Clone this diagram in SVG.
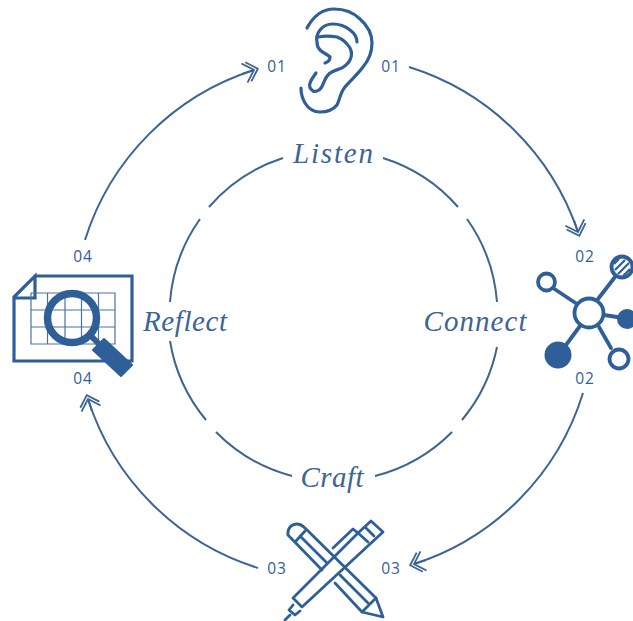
<svg xmlns="http://www.w3.org/2000/svg" width="633" height="621" viewBox="0 0 633 621">
<style>
.c{fill:none;stroke:#3d6494;stroke-width:2}
.i{fill:none;stroke:#2f5f98;stroke-width:3.2;stroke-linecap:round;stroke-linejoin:round}
.f{fill:#2f5f98;stroke:none}
.n{font-family:"Open Sans",sans-serif;font-size:15.500px;fill:#2f5f98;letter-spacing:.8px;text-anchor:middle}
.l{font-family:"Liberation Serif",serif;font-style:italic;font-size:29px;fill:#3d6494;text-anchor:middle}
</style>
<defs>
<marker id="a" markerUnits="userSpaceOnUse" markerWidth="24" markerHeight="28" refX="12" refY="14" orient="auto" overflow="visible">
<path d="M6,4 L16,14 L6,24 M2,4 L12,14 L2,24 M12,14 L0,14" fill="none" stroke="#3d6494" stroke-width="1.800"/>
</marker>
</defs>
<g id="connectors">
<path class="c" marker-end="url(#a)" d="M409,67 A260,260 0 0 1 578,232"/>
<path class="c" marker-end="url(#a)" d="M583,393 A260,260 0 0 1 414,564"/>
<path class="c" marker-end="url(#a)" d="M258,568 A260,260 0 0 1 88,399"/>
<path class="c" marker-end="url(#a)" d="M85,240 A260,260 0 0 1 254,70"/>
<path class="c" d="M383,158 A165,165 0 0 1 458,207"/>
<path class="c" d="M467,219 A165,165 0 0 1 497,302"/>
<path class="c" d="M497,347 A165,165 0 0 1 462,420"/>
<path class="c" d="M452,432 A165,165 0 0 1 375,476"/>
<path class="c" d="M292,476 A165,165 0 0 1 216,432"/>
<path class="c" d="M206,420 A165,165 0 0 1 170,341"/>
<path class="c" d="M170,302 A165,165 0 0 1 200,219"/>
<path class="c" d="M209,207 A165,165 0 0 1 283,158"/>
</g>
<g id="listen">
<path class="i" d="M307,28 C314,15 324,9 334,9 C343,9 353,12 360,19 C368,26 372,34 372,43 C372,53 369,60 363,67 C357,75 350,81 345,87 C340,93 340,99 337,105 C333,110 327,112 320,112 C313,112 308,108 305,103 C302,98 301,93 301,88"/>
<path class="i" d="M357,42 C357,37 354,33 350,30 C345,26 339,24 333,24 C327,24 323,26 320,30 C317,34 316,38 317,42 C317,46 318,48 320,50 C323,53 327,54 330,57 C330,60 328,62 325,63"/>
<path class="i" d="M318,37 C324,36 331,36 337,37 C342,39 347,43 350,48 C352,52 352,56 350,60 C348,64 345,66 342,68 C337,70 331,71 328,75 C324,79 324,84 321,88 C319,91 315,92 313,91 C310,89 309,86 310,83 C311,79 314,76 316,73"/>
<text class="n" x="277" y="72">01</text>
<text class="n" x="391" y="72">01</text>
<text class="l" x="333" y="163" textLength="80">Listen</text>
</g>
<g id="connect">
<g class="i" style="stroke-width:3.800">
<path d="M553,288 L577,304 M598,299 L615,277 M604,315 L617,317 M580,326 L566,345 M599,327 L611,348"/>
<circle cx="589" cy="313" r="14.500"/>
<circle cx="546.500" cy="282" r="8.500"/>
<circle cx="619" cy="359" r="9.500"/>
<circle cx="622" cy="267" r="10.500"/>
</g>
<path d="M614,264 L619,259 M615,270 L625,260 M618,274 L629,263 M623,276 L630,269" fill="none" stroke="#2f5f98" stroke-width="2.200"/>
<circle class="f" cx="627" cy="319" r="10"/>
<circle class="f" cx="558" cy="355" r="13.500"/>
<text class="n" x="585" y="262">02</text>
<text class="n" x="585" y="384">02</text>
<text class="l" x="475" y="331" textLength="103">Connect</text>
</g>
<g id="craft">
<g class="i" style="stroke-width:2.800">
<path d="M322,570 L288,535 C287,529 291,524 297,524 C300,524 303,526 305,528 L376,598 L383,617 L362,612 L335,583"/>
<path d="M296,541 L305,531 M300,536 L327,563 M340,575 L368,603 M376,598 L362,612"/>
<path d="M293,598 L358,533 L371,521 L383,532 L302,607 Z"/>
<path d="M333,548 L353,529 L358,533 M358,533 L368,542 M365,527 L374,536"/>
<path d="M293,605 L289,610 L295,615 L300,611 M290,615 L285,620"/>
</g>
<text class="n" x="277" y="574">03</text>
<text class="n" x="391" y="574">03</text>
<text class="l" x="332" y="487" textLength="63">Craft</text>
</g>
<g id="reflect">
<path fill="none" stroke="#2f5f98" stroke-width="3.200" d="M35,276 H132 V361 H14 V297 L35,276 V298 H14"/>
<path fill="none" stroke="#4b72a3" stroke-width="1.200" d="M31,293 H115 V344 H31 Z M31,310 H115 M31,327 H115 M47.500,293 V344 M65,293 V344 M81.500,293 V344 M98.500,293 V344"/>
<circle cx="72" cy="318" r="24.500" fill="none" stroke="#2f5f98" stroke-width="7.500"/>
<path d="M91,336 L101,346" stroke="#2f5f98" stroke-width="6" fill="none"/>
<path d="M104,339 L132,365 L121,376 L93,350 Z" class="f" stroke="#2f5f98" stroke-width="2" style="stroke:#2f5f98;stroke-linejoin:round"/>
<text class="n" x="83" y="262">04</text>
<text class="n" x="83" y="384">04</text>
<text class="l" x="185" y="331" textLength="84">Reflect</text>
</g>
</svg>
